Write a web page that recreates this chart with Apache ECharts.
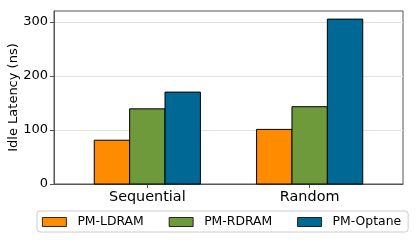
<!DOCTYPE html>
<html><head><meta charset="utf-8">
<script src="https://cdn.jsdelivr.net/npm/echarts@6/dist/echarts.min.js"></script>
<style>html,body{margin:0;padding:0;background:#fff}#c{width:415px;height:241px}</style>
</head><body><div id="c"></div>
<script>
const categories = ['Sequential', 'Random'];
const seriesNames = ['PM-LDRAM', 'PM-RDRAM', 'PM-Optane'];
const ldram = [81, 101];
const rdram = [139, 143];
const optane = [170, 305];
const yTicks = [0, 100, 200, 300];
const colors = ['#FF8C00', '#6E9A3C', '#006895'];

const font = 'DejaVu Sans';
const BAR_W = 0.218; // bar width in category units
const chart = echarts.init(document.getElementById('c'), null, {renderer: 'canvas'});
const values = [ldram, rdram, optane];
const series = values.map((arr, i) => ({
  name: seriesNames[i],
  type: 'custom',
  data: arr.map((v, j) => [j, v]),
  itemStyle: {color: colors[i]},
  renderItem: (params, api) => {
    const x = api.value(0) + (i - 1) * BAR_W;
    const v = api.value(1);
    const p0 = api.coord([x - BAR_W / 2, v]);
    const p1 = api.coord([x + BAR_W / 2, 0]);
    return {
      type: 'rect',
      shape: {x: p0[0], y: p0[1], width: p1[0] - p0[0], height: p1[1] - p0[1]},
      style: {fill: colors[i], stroke: '#000', lineWidth: 1}
    };
  },
  emphasis: {disabled: true}
}));
chart.setOption({
  animation: false,
  grid: {left: 54, right: 12, top: 11, bottom: 57, containLabel: false, outerBoundsMode: 'none', show: true, borderColor: '#555', borderWidth: 1},
  xAxis: {
    type: 'value', min: -0.575, max: 1.575,
    axisLine: {show: true, onZero: false, lineStyle: {color: '#555'}},
    axisTick: {show: true, customValues: [0, 1], length: 4, lineStyle: {color: '#555'}},
    axisLabel: {customValues: [0, 1], formatter: v => categories[Math.round(v)], fontFamily: font, fontSize: 14.4, color: '#000', margin: 6},
    splitLine: {show: false}
  },
  yAxis: {
    type: 'value', min: 0, max: 320, interval: 100,
    axisLine: {show: true, onZero: false, lineStyle: {color: '#555'}},
    axisTick: {show: true, customValues: yTicks, length: 4, lineStyle: {color: '#555'}},
    axisLabel: {customValues: yTicks, fontFamily: font, fontSize: 13, color: '#000', margin: 6},
    splitLine: {show: true, lineStyle: {color: '#e3e3e3', width: 1.2}},
    name: 'Idle Latency (ns)', nameLocation: 'middle', nameGap: 34, nameMoveOverlap: false,
    nameTextStyle: {fontFamily: font, fontSize: 13, color: '#000'}
  },
  legend: {
    left: 37, top: 211, orient: 'horizontal',
    itemWidth: 24, itemHeight: 9, itemGap: 25,
    padding: [5, 7, 4, 5],
    borderColor: '#ccc', borderWidth: 1, borderRadius: 3,
    textStyle: {fontFamily: font, fontSize: 12.4, color: '#000', padding: [0, 0, 0, 6]},
    data: seriesNames.map((n, i) => ({name: n, icon: 'rect', itemStyle: {color: colors[i], borderColor: '#000', borderWidth: 0.8}}))
  },
  series: series
});
</script></body></html>
